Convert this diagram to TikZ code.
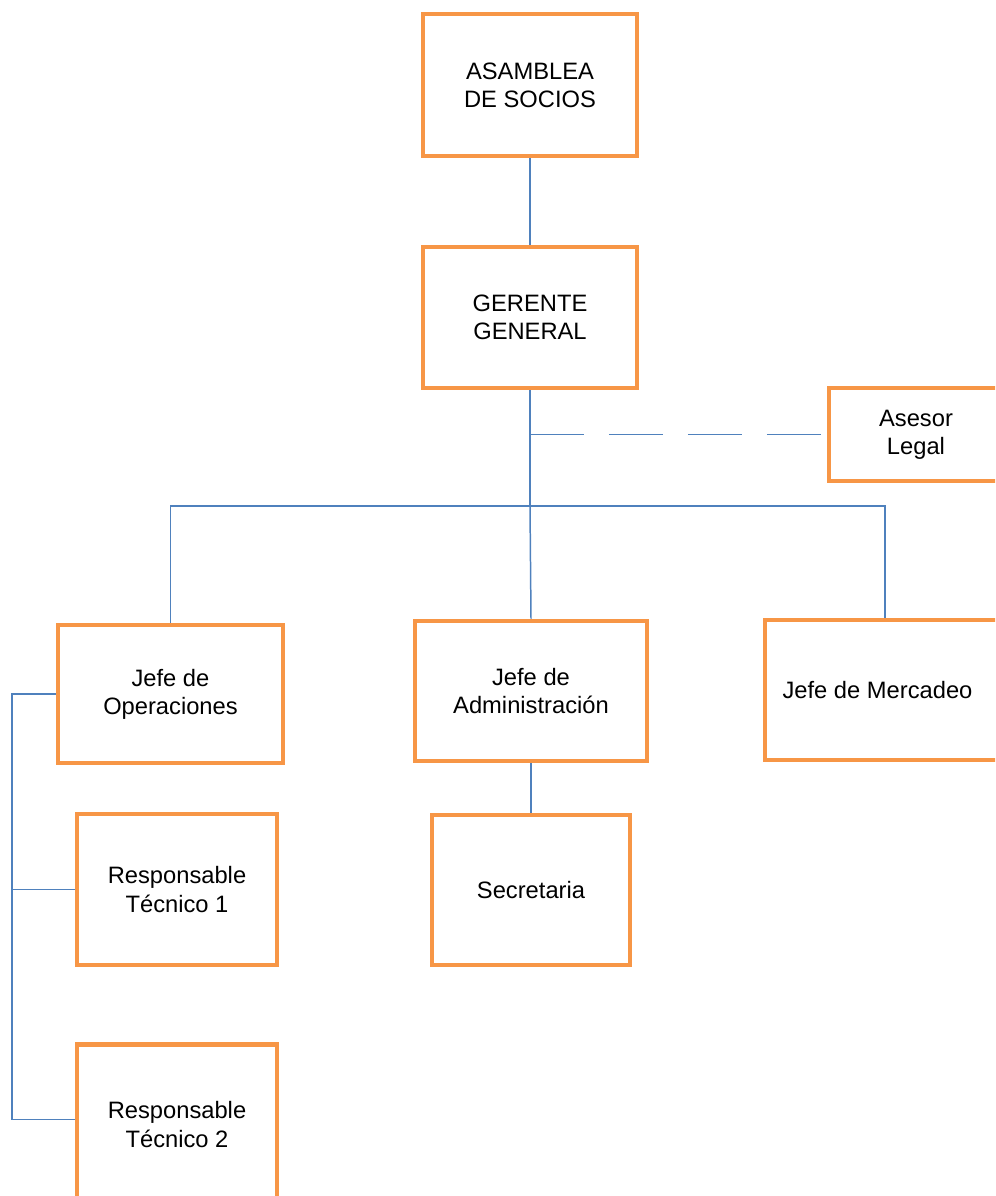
\documentclass[tikz,border=0pt]{standalone}
\usepackage{fontspec}
\setmainfont{Liberation Sans}
\usetikzlibrary{positioning, calc}
\definecolor{boxor}{HTML}{F79646}
\definecolor{linbl}{HTML}{4F81BD}
\tikzset{
  box/.style={rectangle, draw=boxor, line width=2.6pt, fill=white, align=center, inner sep=2pt, font=\fontsize{13.5}{16}\selectfont},
  con/.style={draw=linbl, line width=0.85pt},
  dcon/.style={con, dash pattern=on 1.08cm off 0.5cm}
}

\begin{document}
\begin{tikzpicture}[x=0.02cm, y=-0.02cm]
		\useasboundingbox (0,0) rectangle (995,1196);
		\clip (0,0) rectangle (995,1196);
		\node[box, minimum width=4.28cm, minimum height=2.84cm] (asm) at (530,85) {ASAMBLEA\\DE SOCIOS};
		\node[box, minimum width=4.28cm, minimum height=2.82cm] (ger) at (530,317.5) {GERENTE\\GENERAL};
		\node[box, minimum width=3.48cm, minimum height=1.86cm] (ase) at (916,434.5) {Asesor\\Legal};
		\node[box, minimum width=4.5cm, minimum height=2.76cm] (jop) at (170.5,694) {Jefe de\\Operaciones};
		\node[box, minimum width=4.64cm, minimum height=2.8cm] (jad) at (531,691) {Jefe de\\Administración};
		\node[box, minimum width=4.8cm, minimum height=2.8cm] (jme) at (885,690) {Jefe de Mercadeo\hspace{0.3cm}};
		\node[box, minimum width=4.0cm, minimum height=3.02cm] (rt1) at (177,889.5) {Responsable\\Técnico 1};
		\node[box, minimum width=3.96cm, minimum height=3.0cm] (sec) at (531,890) {Secretaria};
		\node[box, minimum width=4.0cm, minimum height=3.2cm] (rt2) at (177,1124.5) {Responsable\\Técnico 2};
		\coordinate (jn) at (530,506);
		\coordinate (dl) at (jn |- ase.west);
		\coordinate (lb) at (12,694);
		\draw[con] (asm) -- (ger);
		\draw[con] (ger.south) -- (jn);
		\draw[dcon] (dl) -- (ase.west);
		\draw[con] (jn) -| (jop.north);
		\draw[con] (jn) -- (jad.north);
		\draw[con] (jn) -| (jme.north);
		\draw[con] (jad) -- (sec);
		\draw[con] (jop.west) -- (lb) |- ([yshift=0.1cm]rt2.west);
		\draw[con] (lb) |- (rt1.west);
	\end{tikzpicture}
\end{document}
